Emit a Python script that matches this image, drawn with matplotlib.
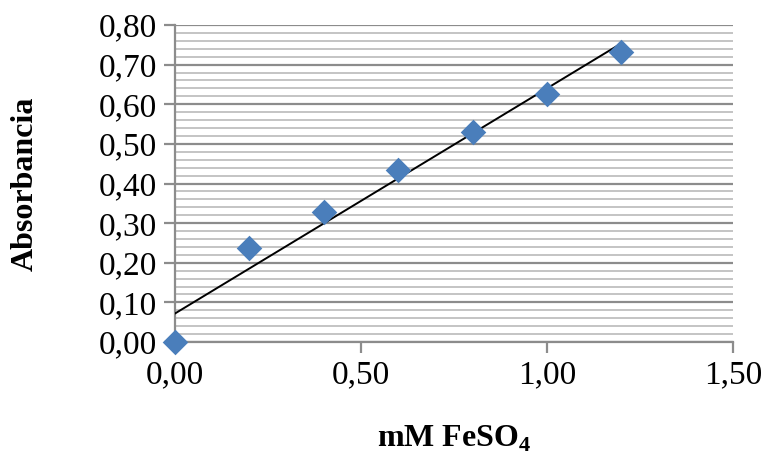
import matplotlib
matplotlib.use("Agg")
import matplotlib.pyplot as plt
import numpy as np
from matplotlib.ticker import MultipleLocator, FuncFormatter

x_vals = [0.0, 0.2, 0.4, 0.6, 0.8, 1.0, 1.2]
y_vals = [0.000, 0.237, 0.328, 0.434, 0.531, 0.627, 0.733]
x_label = "mM FeSO$_\\mathbf{4}$"
y_label = "Absorbancia"

plt.rcParams['font.family'] = ['Liberation Serif', 'DejaVu Serif']
plt.rcParams['mathtext.fontset'] = 'custom'
plt.rcParams['mathtext.rm'] = 'Liberation Serif'
plt.rcParams['mathtext.bf'] = 'Liberation Serif:bold'

fig = plt.figure(figsize=(7.66, 4.59), dpi=100)
ax = fig.add_axes([175/766, 1-342/459, (733-175)/766, (342-25)/459])

ax.set_xlim(0, 1.5)
ax.set_ylim(0, 0.8)

ax.yaxis.set_major_locator(MultipleLocator(0.1))
ax.yaxis.set_minor_locator(MultipleLocator(0.02))
ax.xaxis.set_major_locator(MultipleLocator(0.5))

fmt = FuncFormatter(lambda v, p: f"{v:.2f}".replace(".", ","))
ax.xaxis.set_major_formatter(fmt)
ax.yaxis.set_major_formatter(fmt)

ax.grid(which='minor', axis='y', color='#c4c4c4', linewidth=1.4, zorder=0)
ax.grid(which='major', axis='y', color='#8c8c8c', linewidth=1.6, zorder=0)
ax.set_axisbelow(True)

for s in ['top', 'right']:
    ax.spines[s].set_visible(False)
for s in ['left', 'bottom']:
    ax.spines[s].set_color('#8c8c8c')
    ax.spines[s].set_linewidth(1.6)

ax.tick_params(axis='both', which='major', direction='out', length=8, width=1.6,
               color='#8c8c8c', labelsize=24, pad=5)
ax.tick_params(axis='y', which='minor', length=0)

slope, intercept = np.polyfit(x_vals, y_vals, 1)
xt = np.array([0.0, max(x_vals)])
ax.plot(xt, slope * xt + intercept, color='black', linewidth=1.4, zorder=3)

ax.scatter(x_vals, y_vals, marker='D', s=170, color='#4a7ebb', zorder=4, clip_on=False, linewidths=0)

ax.set_xlabel(x_label, fontsize=23, fontweight='bold', labelpad=24)
ax.set_ylabel(y_label, fontsize=23, fontweight='bold', labelpad=42)

fig.savefig("out.png", dpi=100)
